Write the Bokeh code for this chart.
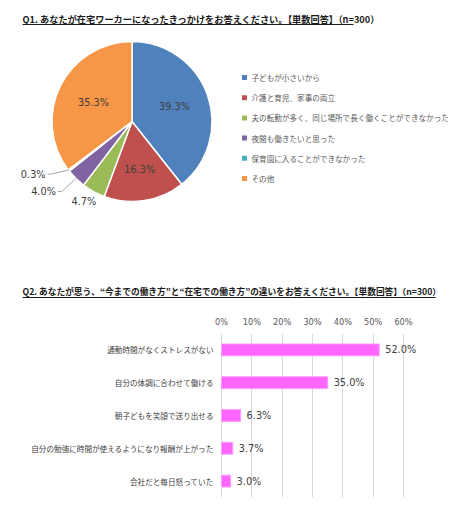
import math
import numpy as np
from bokeh.plotting import figure
from bokeh.layouts import column
from bokeh.models import Range1d, FactorRange, FixedTicker, PrintfTickFormatter, ColumnDataSource
from bokeh.core.properties import value
from bokeh.embed import file_html
from bokeh.resources import INLINE

# ---------------- data ----------------
q1_title = "Q1. あなたが在宅ワーカーになったきっかけをお答えください。【単数回答】（n=300）"
q1_labels = ["子どもが小さいから", "介護と育児、家事の両立",
             "夫の転勤が多く、同じ場所で長く働くことができなかった",
             "夜間も働きたいと思った", "保育園に入ることができなかった", "その他"]
q1_values = [39.3, 16.3, 4.7, 4.0, 0.3, 35.3]
q1_colors = ["#4F81BD", "#C0504D", "#9BBB59", "#8064A2", "#4BACC6", "#F79646"]

q2_title = "Q2. あなたが思う、“今までの働き方”と“在宅での働き方”の違いをお答えください。【単数回答】（n=300）"
q2_categories = ["通勤時間がなくストレスがない", "自分の体調に合わせて働ける",
                 "朝子どもを笑顔で送り出せる",
                 "自分の勉強に時間が使えるようになり報酬が上がった",
                 "会社だと毎日怒っていた"]
q2_values = [52.0, 35.0, 6.3, 3.7, 3.0]
q2_ticks = [0, 10, 20, 30, 40, 50, 60]

JP = "Noto Sans CJK JP"
NUM = "DejaVu Sans"

# ---------------- layout constants (window pixels) ----------------
W = 473
H1 = 305
TOTAL_H = 510
FRAME_TOP2, FRAME_BOT2 = 333, 497
X0_PX, PX_PER_UNIT = 221.0, 3.033

# ---------------- top figure (pixel canvas) ----------------
p1 = figure(width=W, height=H1, x_range=Range1d(0, W), y_range=Range1d(-H1, 0),
            x_axis_location=None, y_axis_location=None,
            output_backend="svg", toolbar_location=None, min_border=0)
p1.grid.visible = False
p1.outline_line_color = None

# titles
p1.text(x=[22], y=[-18], text=[q1_title], text_font=value(JP), text_font_size="9.2px",
        text_font_style="bold", text_color="#1a1a1a", text_baseline="middle", text_align="left")
p1.line(x=[22, 353], y=[-24, -24], line_color="#1a1a1a", line_width=1.2)
p1.text(x=[22], y=[-291], text=[q2_title], text_font=value(JP), text_font_size="8.7px",
        text_font_style="bold", text_color="#1a1a1a", text_baseline="middle", text_align="left")
p1.line(x=[22, 435], y=[-297, -297], line_color="#1a1a1a", line_width=1.2)

# pie
cx, cy, R = 131.5, -121.0, 80.0
vals = np.array(q1_values)
tot = vals.sum()
cum = np.cumsum(vals)
prev = cum - vals
start = math.pi / 2 - 2 * math.pi * prev / tot
end = math.pi / 2 - 2 * math.pi * cum / tot
mid = (start + end) / 2
pie_src = ColumnDataSource(dict(start=start, end=end, color=q1_colors))
p1.wedge(x=cx, y=cy, radius=R, start_angle="start", end_angle="end", direction="clock",
         fill_color="color", line_color="white", line_width=1.5, source=pie_src)

# pie labels
lab_r = [45, 49, 93, 99, 99, 43]
lab_txt = [f"{v:.1f}%" for v in q1_values]
in_x, in_y, in_t = [], [], []
for i, v in enumerate(q1_values):
    if v >= 10:
        in_x.append(cx + lab_r[i] * math.cos(mid[i]))
        in_y.append(cy + lab_r[i] * math.sin(mid[i]))
        in_t.append(lab_txt[i])
p1.text(x=in_x, y=in_y, text=in_t, text_font=value(NUM), text_font_size="9.75px",
        text_color="#404040", text_align="center", text_baseline="middle")

gi = 2
p1.text(x=[cx + lab_r[gi] * math.cos(mid[gi] - 0.04)], y=[cy + lab_r[gi] * math.sin(mid[gi] - 0.04)],
        text=[lab_txt[gi]], text_font=value(NUM), text_font_size="9.75px",
        text_color="#404040", text_align="center", text_baseline="middle")

lead = {3: (-0.01, 99), 4: (-0.08, 96)}
for i, (dang, rr) in lead.items():
    ex, ey = cx + (R - 1) * math.cos(mid[i]), cy + (R - 1) * math.sin(mid[i])
    a = mid[i] + dang
    bx, by = cx + rr * math.cos(a), cy + rr * math.sin(a)
    p1.line(x=[ex, bx, bx - 4], y=[ey, by, by], line_color="#A6A6A6", line_width=1)
    p1.text(x=[bx - 6], y=[by], text=[lab_txt[i]], text_font=value(NUM), text_font_size="9.75px",
            text_color="#404040", text_align="right", text_baseline="middle")

# legend
leg_y = [-77 - 20.2 * i for i in range(len(q1_labels))]
p1.scatter(x=[244] * len(q1_labels), y=leg_y, marker="square", size=5,
           fill_color=q1_colors, line_color=None)
p1.text(x=[251] * len(q1_labels), y=leg_y, text=q1_labels, text_font=value(JP),
        text_font_size="7.6px", text_color="#595959", text_align="left", text_baseline="middle")

# ---------------- bottom figure (bar chart) ----------------
H2 = TOTAL_H - H1
cats_rev = q2_categories[::-1]
x_start = -X0_PX / PX_PER_UNIT
x_end = (W - X0_PX) / PX_PER_UNIT
p2 = figure(width=W, height=H2, y_range=FactorRange(*cats_rev), x_range=Range1d(x_start, x_end),
            x_axis_location="above", y_axis_location=None,
            output_backend="svg", toolbar_location=None,
            min_border_left=0, min_border_right=0,
            min_border_top=FRAME_TOP2 - H1, min_border_bottom=TOTAL_H - FRAME_BOT2)
p2.outline_line_color = None
p2.y_range.range_padding = 0
src2 = ColumnDataSource(dict(cat=q2_categories, val=q2_values,
                             lab=[f"{v:.1f}%" for v in q2_values],
                             zero=[0] * len(q2_values)))
p2.hbar(y="cat", right="val", left=0, height=0.36, fill_color="#FF66FF",
        line_color="#FF99FF", line_width=1, source=src2)
p2.text(x="val", y="cat", text="lab", x_offset=6, source=src2, text_font=value(NUM),
        text_font_size="9.75px", text_color="#404040", text_align="left", text_baseline="middle")
# category labels
p2.text(x="zero", y="cat", text="cat", x_offset=-8, source=src2, text_font=value(JP),
        text_font_size="7.6px", text_color="#404040", text_align="right", text_baseline="middle")

xa = p2.xaxis[0]
xa.ticker = FixedTicker(ticks=q2_ticks)
xa.formatter = PrintfTickFormatter(format="%d%%")
xa.axis_line_color = None
xa.major_tick_line_color = None
xa.minor_tick_line_color = None
xa.major_label_text_font = NUM
xa.major_label_text_font_size = "8.2px"
xa.major_label_text_color = "#595959"
xa.major_label_standoff = 1

p2.xgrid.grid_line_color = "#D9D9D9"
p2.xgrid.ticker = FixedTicker(ticks=q2_ticks)
p2.ygrid.grid_line_color = None

layout = column(p1, p2, spacing=0)
open("out.html", "w").write(file_html(layout, INLINE))
